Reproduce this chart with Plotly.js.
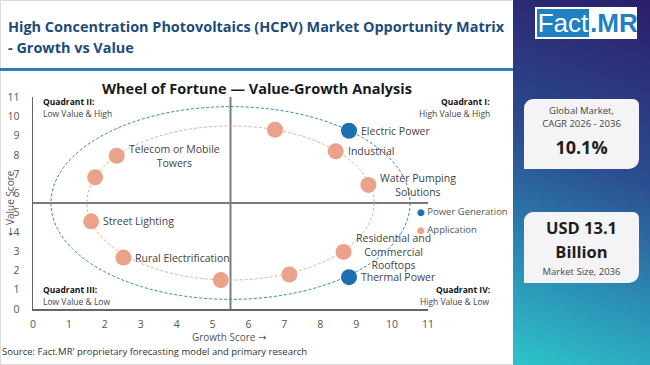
<!DOCTYPE html>
<html>
<head>
<meta charset="utf-8">
<script src="https://cdn.plot.ly/plotly-3.0.1.min.js"></script>
<style>
  html, body { margin:0; padding:0; }
  body { width:650px; height:365px; overflow:hidden; position:relative; background:#fff; font-family:"Open Sans", sans-serif; }
  #frame { position:absolute; left:0; top:0; width:648px; height:363px; border:1px solid #dcdcdc; }
  #hdr { position:absolute; left:8px; top:16px; font-weight:700; font-size:15px; line-height:21px; color:#1c4c7a; white-space:nowrap; }
  #hdr span { display:inline-block; }
  #hdrline { position:absolute; left:0; top:68px; width:513px; height:3px; background:#2f7db8; }
  #panel { position:absolute; left:513px; top:0; width:137px; height:365px; background:linear-gradient(200deg, #2c1d6a 0%, #2b4f92 45%, #2b8fb5 75%, #2ec4ca 100%); }
  #logo { position:absolute; left:535px; top:7px; width:102px; height:32px; background:#fff; }
  #logo .f { position:absolute; left:2px; top:2px; width:52px; height:28px; background:#1f80c2; color:#fff; font-family:"Liberation Sans",Arial,sans-serif; font-size:26px; line-height:28px; text-align:center; }
  #logo .m { position:absolute; left:55px; top:2px; width:46px; height:28px; color:#1f80c2; font-family:"Liberation Sans",Arial,sans-serif; font-size:26px; line-height:28px; text-align:center; font-weight:700; }
  .card { position:absolute; left:524px; width:115px; background:#f4f4f6; border-radius:9px 6px 10px 0; text-align:center; color:#333; }
  #c1 { top:99px; height:70px; }
  #c2 { top:212px; height:71px; }
  .sm { font-size:9.5px; line-height:13px; color:#444; }
  .big { font-size:16.5px; font-weight:700; line-height:24px; color:#1e1e1e; }
  #src { position:absolute; left:2px; top:345px; font-size:9.5px; color:#333; }
  #plot { position:absolute; left:0; top:0; width:650px; height:365px; }
</style>
</head>
<body>
<div id="frame"></div>
<div id="hdr"><span id="h1">High Concentration Photovoltaics (HCPV) Market Opportunity Matrix</span><br><span>- Growth vs Value</span></div>
<div id="hdrline"></div>
<div id="panel"></div>
<div id="logo"><div class="f">Fact</div><div class="m">.MR</div></div>
<div class="card" id="c1">
  <div class="sm" style="padding-top:5px">Global Market,<br>CAGR 2026 - 2036</div>
  <div class="big" style="margin-top:5px;font-size:18px">10.1%</div>
</div>
<div class="card" id="c2">
  <div class="big" style="padding-top:4px;line-height:24px">USD 13.1<br>Billion</div>
  <div class="sm" style="margin-top:1px">Market Size, 2036</div>
</div>
<div id="src">Source: Fact.MR' proprietary forecasting model and primary research</div>
<div id="plot"></div>
<script>
(function(){
  const h1 = document.getElementById("h1");
  const w = h1.getBoundingClientRect().width;
  document.getElementById("hdr").style.fontSize = (15 * 496 / w).toFixed(2) + "px";
})();

// ---- data ----
const powerNames  = ["Electric Power", "Thermal Power"];
const powerGrowth = [8.8, 8.8];
const powerValue  = [9.25, 1.65];

const appNames  = ["", "Industrial", "Water Pumping<br>Solutions", "Residential and<br>Commercial<br>Rooftops", "", "", "Rural Electrification", "Street Lighting", "", "Telecom or Mobile<br>Towers"];
const appGrowth = [6.74, 8.43, 9.34, 8.65, 7.14, 5.23, 2.52, 1.62, 1.73, 2.33];
const appValue  = [9.3, 8.18, 6.44, 2.96, 1.79, 1.5, 2.67, 4.55, 6.83, 7.95];

const seriesNames = ["Power Generation", "Application"];
const axisRange = [0, 11];
const tickVals = [0,1,2,3,4,5,6,7,8,9,10,11];
const quadrantSplit = 5.5;
const ringCenter = [5.5, 5.5];
const ringRadius = [5, 4];   // power generation ring, application ring

const quadrantTitles = ["Quadrant I:", "Quadrant II:", "Quadrant III:", "Quadrant IV:"];
const quadrantSubs   = ["High Value & High", "Low Value & High", "Low Value & Low", "High Value & Low"];

// ---- styling ----
const BLUE = "#1c6fb1", ORANGE = "#eba28b";
const RING_BLUE = "#2f7fc0", RING_ORANGE = "#f0a992";
const FONT = "Open Sans, DejaVu Sans, sans-serif";
const labelFont = {family: FONT, size: 10.5, color: "#444"};
const ARROW = (ch) => '<span style="font-family:DejaVu Sans">' + ch + '</span>';

const traces = [
  {x: appGrowth, y: appValue, type: "scatter", mode: "markers", name: seriesNames[1], showlegend: false,
   marker: {size: 16, color: ORANGE}, hoverinfo: "skip"},
  {x: powerGrowth, y: powerValue, type: "scatter", mode: "markers", name: seriesNames[0], showlegend: false,
   marker: {size: 16, color: BLUE}, hoverinfo: "skip"}
];

const annotations = [];
function addLabels(names, xs, ys) {
  names.forEach((n, i) => {
    if (!n) return;
    annotations.push({x: xs[i], y: ys[i], xref: "x", yref: "y", text: n, showarrow: false,
      xanchor: "left", yanchor: "middle", xshift: 10, align: "center", font: labelFont});
  });
}
addLabels(powerNames, powerGrowth, powerValue);
addLabels(appNames, appGrowth, appValue);

// pixel helpers for paper-positioned text
const W = 650, H = 365;
const L = 33, R = 222, T = 97, B = 56;
const pw = W - L - R, ph = H - T - B;
const px = (xp) => (xp - L) / pw;
const py = (yp) => (H - B - yp) / ph;

const qpos = [
  {x: 492, y: 101, anchor: "right"},
  {x: 41,  y: 101, anchor: "left"},
  {x: 41,  y: 289, anchor: "left"},
  {x: 492, y: 289, anchor: "right"}
];
qpos.forEach((q, i) => {
  annotations.push({xref: "paper", yref: "paper", x: px(q.x), y: py(q.y), xanchor: q.anchor, yanchor: "middle",
    text: "<b>" + quadrantTitles[i] + "</b>", showarrow: false, font: {family: FONT, size: 8.5, color: "#111"}});
  annotations.push({xref: "paper", yref: "paper", x: px(q.x), y: py(q.y + 12), xanchor: q.anchor, yanchor: "middle",
    text: quadrantSubs[i], showarrow: false, font: {family: FONT, size: 8.5, color: "#444"}});
});

// legend (symbol + text)
const legendColors = [BLUE, ORANGE];
seriesNames.forEach((n, i) => {
  annotations.push({xref: "paper", yref: "paper", x: px(415), y: py(211 + 18.5 * i), xanchor: "left", yanchor: "middle",
    text: '<span style="color:' + legendColors[i] + ';font-family:DejaVu Sans;font-size:9px">●</span> ' + n,
    showarrow: false, font: {family: FONT, size: 9.5, color: "#555"}});
});

// axis titles
annotations.push({xref: "paper", yref: "paper", x: px(229), y: py(337), xanchor: "center", yanchor: "middle",
  text: "Growth Score " + ARROW("→"), showarrow: false, font: {family: FONT, size: 10, color: "#555"}});
annotations.push({xref: "paper", yref: "paper", x: px(10), y: py(203), xanchor: "center", yanchor: "middle",
  text: ARROW("←") + " Value Score", textangle: -90, showarrow: false, font: {family: FONT, size: 10, color: "#555"}});

const shapes = [
  {type: "line", xref: "x", yref: "y", x0: quadrantSplit, x1: quadrantSplit, y0: axisRange[0], y1: axisRange[1],
   line: {color: "#7a7a7a", width: 2}, layer: "below"},
  {type: "line", xref: "x", yref: "y", x0: axisRange[0], x1: axisRange[1], y0: quadrantSplit, y1: quadrantSplit,
   line: {color: "#7a7a7a", width: 2}, layer: "below"},
  {type: "circle", xref: "x", yref: "y",
   x0: ringCenter[0] - ringRadius[0], x1: ringCenter[0] + ringRadius[0],
   y0: ringCenter[1] - ringRadius[0], y1: ringCenter[1] + ringRadius[0],
   line: {color: RING_BLUE, width: 1, dash: "3px,2px"}, layer: "below"},
  {type: "circle", xref: "x", yref: "y",
   x0: ringCenter[0] - ringRadius[1], x1: ringCenter[0] + ringRadius[1],
   y0: ringCenter[1] - ringRadius[1], y1: ringCenter[1] + ringRadius[1],
   line: {color: RING_ORANGE, width: 1, dash: "3px,2px"}, layer: "below"}
];

const axisCommon = {
  range: axisRange, tickvals: tickVals, showgrid: false, zeroline: false,
  showline: true, linecolor: "#666", linewidth: 1.5, ticks: "",
  tickfont: {family: FONT, size: 10.5, color: "#555"},
  fixedrange: true
};

const layout = {
  width: W, height: H,
  margin: {l: L, r: R, t: T, b: B, pad: 0},
  paper_bgcolor: "rgba(0,0,0,0)", plot_bgcolor: "rgba(0,0,0,0)",
  title: {text: "<b>Wheel of Fortune — Value-Growth Analysis</b>", xref: "container", yref: "container",
    x: 257 / W, y: 1 - 89 / H, xanchor: "center", yanchor: "middle",
    font: {family: FONT, size: 14.5, color: "#1a1a1a"}},
  xaxis: Object.assign({}, axisCommon, {ticklabelstandoff: 5}),
  yaxis: Object.assign({}, axisCommon, {ticklabelstandoff: 10}),
  showlegend: false,
  shapes: shapes,
  annotations: annotations
};

Plotly.newPlot("plot", traces, layout, {displayModeBar: false, staticPlot: true});
</script>
</body>
</html>
